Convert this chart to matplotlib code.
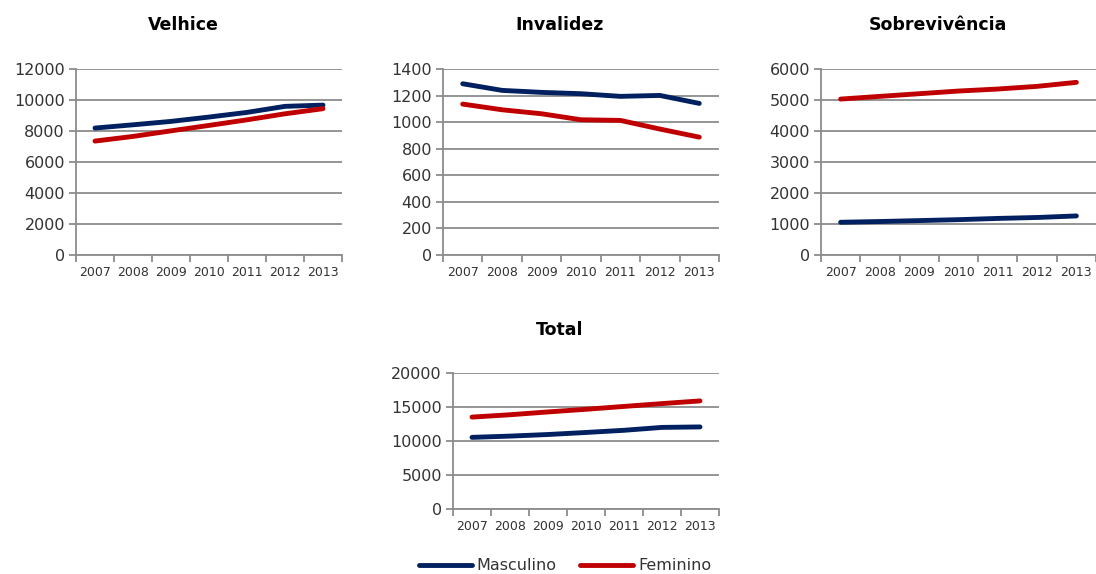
import matplotlib
matplotlib.use("Agg")
import matplotlib.pyplot as plt
from matplotlib.ticker import FixedLocator

plt.rcParams["font.family"] = ["DejaVu Sans"]

anos = ["2007", "2008", "2009", "2010", "2011", "2012", "2013"]

velhice_masc = [8190, 8400, 8620, 8900, 9200, 9590, 9670]
velhice_fem = [7350, 7650, 8010, 8360, 8720, 9110, 9440]

invalidez_masc = [1289, 1239, 1224, 1214, 1194, 1201, 1141]
invalidez_fem = [1136, 1093, 1063, 1018, 1013, 948, 887]

sobrev_masc = [1056, 1080, 1110, 1140, 1180, 1210, 1260]
sobrev_fem = [5030, 5117, 5203, 5289, 5354, 5440, 5569]

total_masc = [10535, 10720, 10955, 11255, 11575, 12000, 12070]
total_fem = [13515, 13860, 14275, 14665, 15085, 15500, 15895]

AZUL = "#002060"
VERMELHO = "#C00000"
CINZA = "#8C8C8C"

W, H = 1096, 574

fig = plt.figure(figsize=(W / 100, H / 100), dpi=100)


def px_axes(x0, y0, x1, y1):
    # caixa em pixels (topo-esquerda) -> coordenadas da figura
    return fig.add_axes([x0 / W, 1 - y1 / H, (x1 - x0) / W, (y1 - y0) / H])


def desenha(ax, masc, fem, ymax, passo, titulo, tx, ty):
    n = len(anos)
    xs = list(range(n))
    ax.plot(xs, masc, color=AZUL, lw=3.5, solid_capstyle="round", label="Masculino")
    ax.plot(xs, fem, color=VERMELHO, lw=3.5, solid_capstyle="round", label="Feminino")
    ax.set_xlim(-0.5, n - 0.5)
    ax.set_ylim(0, ymax)
    ax.set_yticks(list(range(0, ymax + 1, passo)))
    ax.grid(axis="y", color=CINZA, lw=1.3)
    ax.set_axisbelow(True)
    for s in ["top", "right"]:
        ax.spines[s].set_visible(False)
    for s in ["left", "bottom"]:
        ax.spines[s].set_color(CINZA)
        ax.spines[s].set_linewidth(1.3)
    # ticks nas fronteiras das categorias, rótulos no centro
    ax.xaxis.set_major_locator(FixedLocator([i - 0.5 for i in range(n + 1)]))
    ax.xaxis.set_major_formatter(plt.NullFormatter())
    ax.xaxis.set_minor_locator(FixedLocator(xs))
    ax.set_xticklabels(anos, minor=True)
    ax.tick_params(axis="x", which="major", length=5, width=1.3, color=CINZA)
    ax.tick_params(axis="x", which="minor", length=0, pad=8, labelsize=9, labelcolor="#333333")
    ax.tick_params(axis="y", length=5, width=1.3, color=CINZA, labelsize=11.5,
                   labelcolor="#333333", pad=3)
    fig.text(tx / W, 1 - ty / H, titulo, ha="center", va="center",
             fontsize=12.5, fontweight="bold", color="black")


ax1 = px_axes(76, 69, 342, 255)
desenha(ax1, velhice_masc, velhice_fem, 12000, 2000, "Velhice", 183, 25)

ax2 = px_axes(443, 69, 719, 255)
desenha(ax2, invalidez_masc, invalidez_fem, 1400, 200, "Invalidez", 560, 25)

ax3 = px_axes(821, 69, 1096, 255)
desenha(ax3, sobrev_masc, sobrev_fem, 6000, 1000, "Sobrevivência", 938, 25)

ax4 = px_axes(453, 373, 719, 509)
desenha(ax4, total_masc, total_fem, 20000, 5000, "Total", 560, 330)

h, l = ax4.get_legend_handles_labels()
fig.legend(h, l, loc="center", bbox_to_anchor=(565 / W, 1 - 566 / H), ncol=2,
           frameon=False, fontsize=11.5, handlelength=3.3, handletextpad=0.3,
           columnspacing=1.5, labelcolor="#333333")

fig.savefig("out.png", dpi=100)
